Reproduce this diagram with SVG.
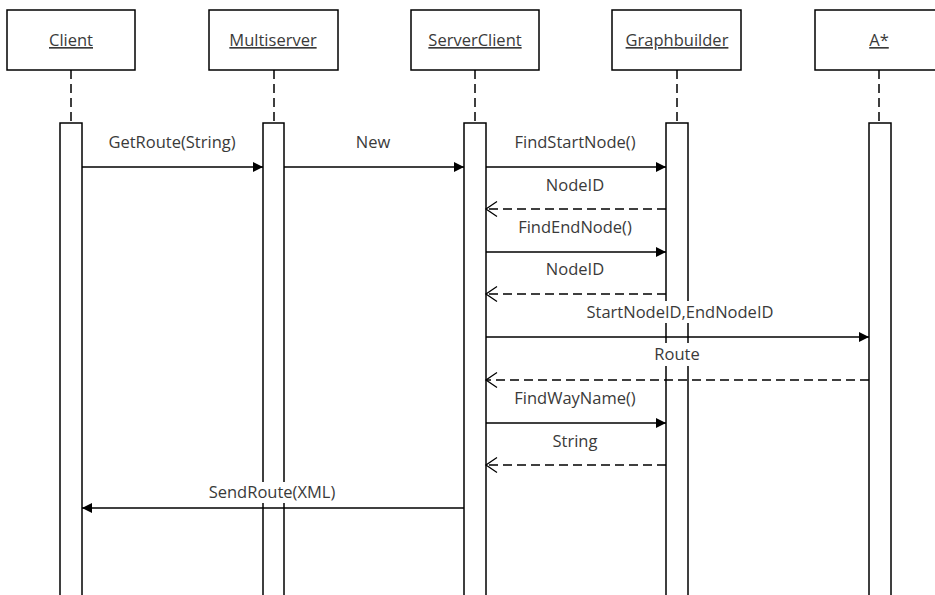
<svg xmlns="http://www.w3.org/2000/svg" width="935" height="595" viewBox="0 0 935 595">
  <style>
    .box { fill: #fff; stroke: #000; stroke-width: 1.5; }
    .life { stroke: #000; stroke-width: 1.5; stroke-dasharray: 9 5; fill: none; }
    .act { fill: #fff; stroke: #000; stroke-width: 1.5; }
    .name { font-family: "Open Sans", "Liberation Sans", sans-serif; font-size: 16.5px; fill: #3a3a3a; text-anchor: middle; text-decoration: underline; }
    .msg { stroke: #000; stroke-width: 1.5; fill: none; }
    .call { marker-end: url(#filled); }
    .ret { stroke-dasharray: 9 5; marker-end: url(#open); }
    .lbl { font-family: "Open Sans", "Liberation Sans", sans-serif; font-size: 16.5px; fill: #3a3a3a; text-anchor: middle; }
    .bg { fill: #fff; }
  </style>
  <defs>
    <marker id="filled" markerUnits="userSpaceOnUse" markerWidth="12" markerHeight="12" refX="11" refY="6" orient="auto">
      <path d="M1,1 L11,6 L1,11 z" fill="#000"/>
    </marker>
    <marker id="open" markerUnits="userSpaceOnUse" markerWidth="14" markerHeight="18" refX="12" refY="9" orient="auto">
      <path d="M1,1.5 L12,9 L1,16.5" fill="none" stroke="#000" stroke-width="1.3"/>
    </marker>
  </defs>
  <rect width="935" height="595" fill="#fff"/>

  <g id="client">
    <rect class="box" x="7" y="10" width="128" height="60"/>
    <line class="life" x1="71" y1="70" x2="71" y2="123"/>
    <rect class="act" x="60" y="123" width="22" height="480"/>
    <text class="name" x="71" y="46">Client</text>
  </g>
  <g id="multiserver">
    <rect class="box" x="209" y="10" width="129" height="60"/>
    <line class="life" x1="274" y1="70" x2="274" y2="123"/>
    <rect class="act" x="263" y="123" width="21" height="480"/>
    <text class="name" x="273" y="46">Multiserver</text>
  </g>
  <g id="serverclient">
    <rect class="box" x="411" y="10" width="128" height="60"/>
    <line class="life" x1="475" y1="70" x2="475" y2="123"/>
    <rect class="act" x="464" y="123" width="22" height="480"/>
    <text class="name" x="475" y="46">ServerClient</text>
  </g>
  <g id="graphbuilder">
    <rect class="box" x="612" y="10" width="129" height="60"/>
    <line class="life" x1="677" y1="70" x2="677" y2="123"/>
    <rect class="act" x="666" y="123" width="22" height="480"/>
    <text class="name" x="677" y="46">Graphbuilder</text>
  </g>
  <g id="astar">
    <rect class="box" x="815" y="10" width="128" height="60"/>
    <line class="life" x1="879" y1="70" x2="879" y2="123"/>
    <rect class="act" x="869" y="123" width="22" height="480"/>
    <text class="name" x="879" y="46">A*</text>
  </g>

  <g id="connectors">
    <line class="msg call" x1="82" y1="167" x2="263" y2="167"/>
    <line class="msg call" x1="284" y1="167" x2="464" y2="167"/>
    <line class="msg call" x1="486" y1="167" x2="666" y2="167"/>
    <line class="msg ret" x1="666" y1="209" x2="486" y2="209"/>
    <line class="msg call" x1="486" y1="252" x2="666" y2="252"/>
    <line class="msg ret" x1="666" y1="294" x2="486" y2="294"/>
    <line class="msg call" x1="486" y1="337" x2="869" y2="337"/>
    <line class="msg ret" x1="869" y1="380" x2="486" y2="380"/>
    <line class="msg call" x1="486" y1="423" x2="666" y2="423"/>
    <line class="msg ret" x1="666" y1="465" x2="486" y2="465"/>
    <line class="msg call" x1="464" y1="508" x2="82" y2="508"/>
  </g>

  <g id="labels">
    <!-- white label backgrounds where text crosses activation bars -->
    <rect class="bg" x="582" y="301" width="198" height="22"/>
    <rect class="bg" x="652" y="343" width="50" height="23"/>
    <rect class="bg" x="206" y="482" width="134" height="21"/>
    <text class="lbl" x="172" y="148">GetRoute(String)</text>
    <text class="lbl" x="373" y="148">New</text>
    <text class="lbl" x="575" y="148">FindStartNode()</text>
    <text class="lbl" x="575" y="191">NodeID</text>
    <text class="lbl" x="575" y="233">FindEndNode()</text>
    <text class="lbl" x="575" y="275">NodeID</text>
    <text class="lbl" x="680" y="318">StartNodeID,EndNodeID</text>
    <text class="lbl" x="677" y="360">Route</text>
    <text class="lbl" x="575" y="404">FindWayName()</text>
    <text class="lbl" x="575" y="447">String</text>
    <text class="lbl" x="272" y="498">SendRoute(XML)</text>
  </g>
</svg>
